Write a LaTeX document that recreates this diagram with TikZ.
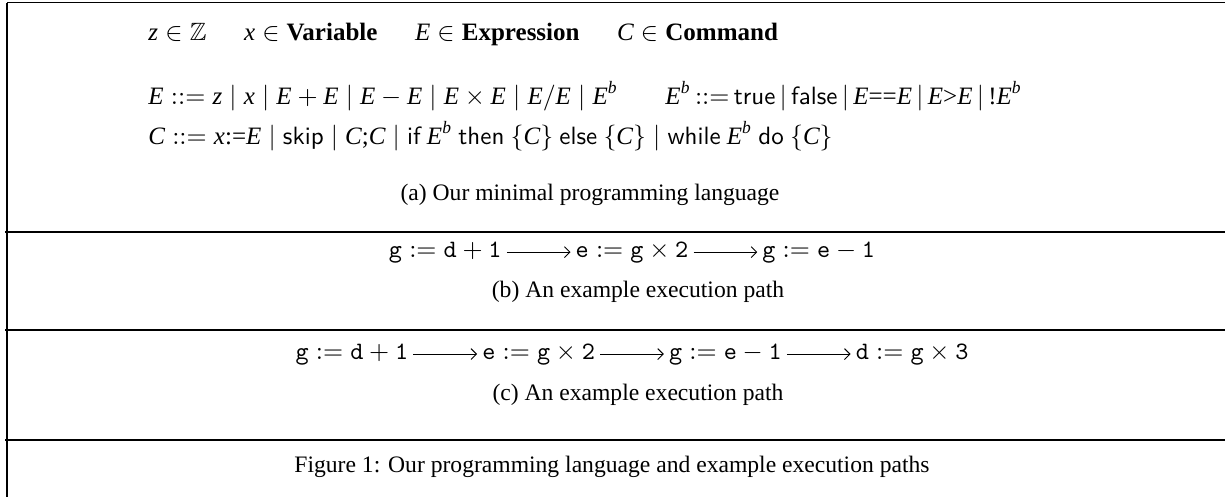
\documentclass[tikz,border=0pt]{standalone}
\usepackage{amsmath,amssymb}
\usepackage{fontspec}
\setmainfont{Liberation Serif}
\usetikzlibrary{positioning,arrows.meta}

\newcommand{\mv}[1]{\textit{#1}}
\newcommand{\kw}[1]{\textsf{#1}}
\newcommand{\tv}[1]{\texttt{#1}}
\newcommand{\Eb}{\mv{E}^{\mv{b}}}

\begin{document}
\begin{tikzpicture}[x=0.4237pt,y=-0.4237pt]
\tikzset{rule/.style={line width=0.6pt},
         row/.style={anchor=base west,inner sep=0pt,font=\fontsize{10.6}{12}\selectfont},
         stmt/.style={inner sep=2pt,font=\fontsize{10.6}{12}\selectfont}}
\useasboundingbox (0,0) rectangle (1225,497);
% frame
\draw[rule] (7,2.5) -- (1225,2.5);
\draw[rule] (7,2.5) -- (7,497);
\draw[rule] (5,232) -- (1225,232);
\draw[rule] (5,330) -- (1225,330);
\draw[rule] (5,440) -- (1225,440);
% (a) grammar
\node[row] (dom) at (148,40) {$\mv{z}\in\mathbb{Z}\quad\enspace \mv{x}\in\textbf{Variable}\quad\enspace \mv{E}\in\textbf{Expression}\quad\enspace \mv{C}\in\textbf{Command}$};
\node[row] (expr) at (148,104) {$\mv{E}\mathrel{::=}\mv{z}\mid\mv{x}\mid\mv{E}+\mv{E}\mid\mv{E}-\mv{E}\mid\mv{E}\times\mv{E}\mid\mv{E}/\mv{E}\mid\Eb$};
\node[row] (bexpr) at (665,104) {$\thickmuskip=3mu
  \Eb\mathrel{::=}\kw{true}\mid\kw{false}\mid\mv{E}\text{==}\mv{E}\mid\mv{E}\text{>}\mv{E}\mid\text{!}\Eb$};
\node[row] (cmd) at (148,144) {$\mv{C}\mathrel{::=}\mv{x}\text{:=}\mv{E}\mid\kw{skip}\mid\mv{C}\text{;}\mv{C}\mid\kw{if}\ \Eb\ \kw{then}\ \{\mv{C}\}\ \kw{else}\ \{\mv{C}\}\mid\kw{while}\ \Eb\ \kw{do}\ \{\mv{C}\}$};
\node[anchor=base] (capa) at (590,200) {(a) Our minimal programming language};
% (b) path
\node[stmt,anchor=base] (b2) at (632,257) {$\tv{e}:=\tv{g}\times\tv{2}$};
\node[stmt,base left=27pt of b2] (b1) {$\tv{g}:=\tv{d}+\tv{1}$};
\node[stmt,base right=27pt of b2] (b3) {$\tv{g}:=\tv{e}-\tv{1}$};
\draw [->,>=Straight Barb](b1)--(b2);
\draw [->,>=Straight Barb](b2)--(b3);
\node[anchor=base] (capb) at (638,297) {(b) An example execution path};
% (c) path
\coordinate (cm) at (632,359);
\node[stmt,base left=13.5pt of cm] (c2) {$\tv{e}:=\tv{g}\times\tv{2}$};
\node[stmt,base right=13.5pt of cm] (c3) {$\tv{g}:=\tv{e}-\tv{1}$};
\node[stmt,base left=27pt of c2] (c1) {$\tv{g}:=\tv{d}+\tv{1}$};
\node[stmt,base right=27pt of c3] (c4) {$\tv{d}:=\tv{g}\times\tv{3}$};
\draw [->,>=Straight Barb](c1)--(c2);
\draw [->,>=Straight Barb](c2)--(c3);
\draw [->,>=Straight Barb](c3)--(c4);
\node[anchor=base] (capc) at (638,400) {(c) An example execution path};
% caption
\node[anchor=base] (fig) at (612,472) {Figure 1: Our programming language and example execution paths};
\end{tikzpicture}
\end{document}
